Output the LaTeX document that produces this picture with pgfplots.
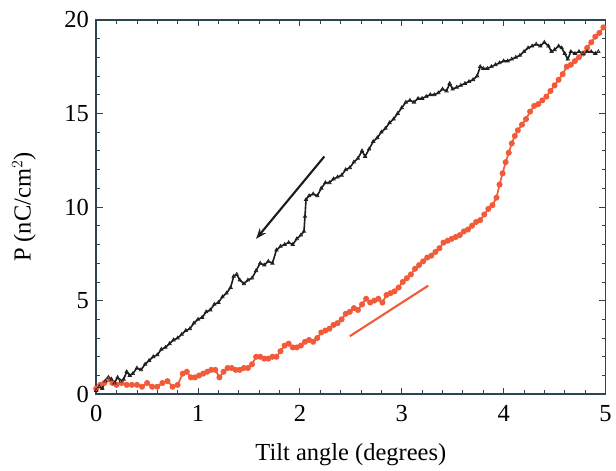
\documentclass[border=0pt]{standalone}
\usepackage{fontspec}
\setmainfont{Liberation Serif}
\usepackage{pgfplots}
\pgfplotsset{compat=1.18}
\usetikzlibrary{arrows.meta}
\definecolor{Frame}{HTML}{2E4450}
\definecolor{Coral}{HTML}{F25A3A}
\definecolor{Ink}{HTML}{1C1C1C}

\pgfplotstableread{
x y
0.00 0.2
0.03 0.4
0.06 0.3
0.09 0.7
0.12 0.9
0.15 0.8
0.18 0.6
0.21 0.9
0.24 0.7
0.27 0.8
0.30 1.2
0.33 1.0
0.36 1.1
0.40 1.4
0.44 1.3
0.48 1.6
0.52 1.8
0.56 2.0
0.60 2.1
0.64 2.4
0.68 2.5
0.72 2.7
0.76 2.9
0.80 3.0
0.84 3.2
0.88 3.4
0.92 3.5
0.96 3.8
1.00 4.0
1.04 4.1
1.08 4.4
1.12 4.5
1.16 4.8
1.20 4.9
1.24 5.2
1.28 5.4
1.32 5.7
1.35 6.3
1.38 6.4
1.41 6.1
1.45 5.9
1.49 6.1
1.53 6.2
1.57 6.6
1.61 7.0
1.65 6.9
1.69 7.1
1.73 7.0
1.77 7.7
1.81 7.9
1.85 8.0
1.89 8.1
1.93 8.0
1.97 8.3
2.01 8.5
2.04 8.7
2.05 9.5
2.06 10.4
2.09 10.6
2.13 10.7
2.17 10.6
2.21 11.0
2.25 11.3
2.29 11.3
2.33 11.5
2.37 11.6
2.41 11.7
2.45 12.0
2.49 12.1
2.53 12.4
2.57 12.6
2.61 13.0
2.64 12.7
2.68 13.1
2.72 13.5
2.76 13.7
2.80 14.0
2.84 14.2
2.88 14.5
2.92 14.7
2.96 15.0
3.00 15.3
3.04 15.6
3.08 15.7
3.12 15.6
3.16 15.8
3.20 15.8
3.24 15.9
3.28 16.0
3.32 16.0
3.36 16.1
3.40 16.3
3.44 16.2
3.47 16.6
3.50 16.3
3.54 16.4
3.58 16.5
3.62 16.6
3.66 16.7
3.70 16.8
3.74 17.0
3.77 17.5
3.80 17.4
3.84 17.4
3.88 17.5
3.92 17.6
3.96 17.7
4.00 17.8
4.04 17.8
4.08 17.9
4.12 18.0
4.16 18.1
4.20 18.3
4.24 18.5
4.28 18.6
4.32 18.7
4.36 18.6
4.40 18.8
4.44 18.6
4.47 18.3
4.50 18.4
4.54 18.6
4.57 18.5
4.60 18.2
4.63 17.9
4.66 18.3
4.70 18.2
4.74 18.3
4.78 18.2
4.82 18.3
4.86 18.3
4.90 18.2
4.93 18.3
}\decreasing

\pgfplotstableread{
x y
0.00 0.3
0.04 0.5
0.08 0.6
0.12 0.8
0.16 0.6
0.20 0.5
0.25 0.6
0.30 0.5
0.35 0.5
0.40 0.5
0.45 0.4
0.50 0.6
0.55 0.4
0.60 0.4
0.65 0.6
0.70 0.7
0.75 0.4
0.80 0.5
0.85 1.1
0.89 1.2
0.93 0.9
0.97 0.9
1.01 1.0
1.05 1.1
1.09 1.2
1.13 1.3
1.17 1.3
1.21 0.9
1.25 1.2
1.29 1.4
1.33 1.4
1.37 1.3
1.41 1.3
1.45 1.4
1.49 1.4
1.53 1.6
1.57 2.0
1.61 2.0
1.65 1.9
1.69 1.9
1.73 2.0
1.77 2.0
1.81 2.3
1.85 2.6
1.89 2.7
1.93 2.5
1.97 2.5
2.01 2.6
2.05 2.8
2.09 2.9
2.13 2.8
2.17 3.0
2.21 3.3
2.25 3.4
2.29 3.5
2.33 3.7
2.37 3.8
2.41 4.0
2.45 4.3
2.49 4.4
2.53 4.6
2.57 4.5
2.61 4.8
2.65 5.1
2.69 4.9
2.73 5.0
2.77 5.1
2.81 4.9
2.85 5.3
2.89 5.4
2.93 5.5
2.97 5.7
3.01 6.0
3.05 6.2
3.09 6.4
3.13 6.7
3.17 6.9
3.21 7.1
3.25 7.3
3.29 7.4
3.33 7.6
3.37 7.8
3.41 8.1
3.45 8.2
3.49 8.3
3.53 8.4
3.57 8.5
3.61 8.7
3.65 8.8
3.69 9.0
3.73 9.2
3.77 9.3
3.81 9.6
3.85 9.9
3.89 10.1
3.93 10.5
3.96 11.2
3.99 11.8
4.02 12.4
4.05 12.9
4.08 13.4
4.11 13.8
4.14 14.1
4.18 14.4
4.22 14.7
4.26 15.1
4.30 15.4
4.34 15.5
4.38 15.7
4.42 15.9
4.46 16.2
4.50 16.5
4.54 16.8
4.58 17.1
4.62 17.5
4.66 17.6
4.70 17.8
4.74 18.0
4.78 18.2
4.82 18.5
4.86 18.8
4.90 19.1
4.94 19.3
4.98 19.6
}\increasing

\begin{document}
\begin{tikzpicture}
\begin{axis}[
  scale only axis,width=385pt,height=283pt,
  xmin=0,xmax=5,ymin=0,ymax=20,
  xtick={0,1,2,3,4,5},ytick={0,5,10,15,20},
  minor x tick num=4,minor y tick num=4,
  tick align=inside,tick pos=both,
  major tick length=5pt,minor tick length=3pt,
  every tick/.style={Frame,line width=0.6pt},
  axis line style={Frame,line width=1.1pt},
  font=\fontsize{18.5}{22}\selectfont,
  /pgf/number format/assume math mode=true,
  xticklabel style={yshift=-5pt},
  yticklabel style={xshift=-2pt},
  xlabel={Tilt angle (degrees)},
  ylabel={P (nC/cm$^2$)},
  xlabel style={at={(rel axis cs:0.5,0)},anchor=base,yshift=-50pt},
  ylabel style={at={(rel axis cs:0,0.5)},anchor=south,yshift=42pt},
  extra description/.code={
    \path (rel axis cs:0,0) ++(-72.7pt,-57pt);
    \path (rel axis cs:1,1) ++(3.8pt,15pt);
  },
  clip=false]
\addplot[Coral,line width=1.3pt,mark=*,mark size=1.6pt,mark options={draw=Coral,fill=Coral}] table {\increasing};
\addplot[Ink,line width=1.2pt,mark=triangle,mark size=1.5pt,mark options={solid,line width=0.5pt}] table {\decreasing};
\addplot[Ink,line width=1.6pt,-{Stealth[length=8pt,width=6pt]}] coordinates {(2.24,12.7) (1.57,8.3)};
\addplot[Coral,line width=1.6pt] coordinates {(2.49,3.1) (3.26,5.8)};
\end{axis}
\end{tikzpicture}
\end{document}
